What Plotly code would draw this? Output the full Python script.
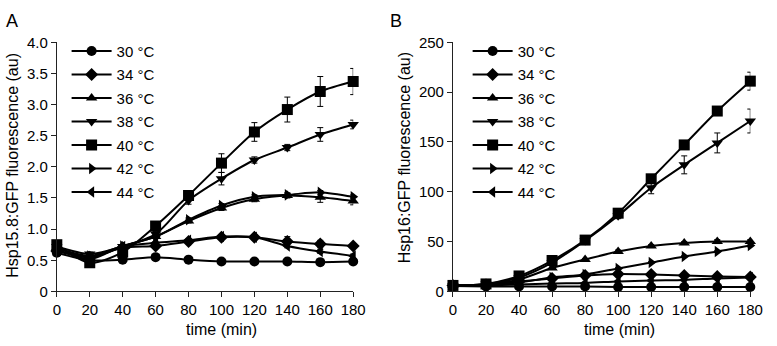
import plotly.graph_objects as go

time_min = [0, 20, 40, 60, 80, 100, 120, 140, 160, 180]
series_names = ["30 °C", "34 °C", "36 °C", "38 °C", "40 °C", "42 °C", "44 °C"]
symbols = ["circle", "diamond", "triangle-up", "triangle-down", "square", "triangle-right", "triangle-left"]

# Panel A: Hsp15.8:GFP
a_30 = [0.62, 0.50, 0.51, 0.55, 0.51, 0.48, 0.48, 0.48, 0.47, 0.48]
a_34 = [0.65, 0.55, 0.70, 0.73, 0.80, 0.87, 0.87, 0.80, 0.76, 0.73]
a_36 = [0.70, 0.55, 0.72, 0.88, 1.13, 1.34, 1.48, 1.54, 1.51, 1.45]
a_38 = [0.72, 0.60, 0.72, 0.92, 1.46, 1.81, 2.11, 2.31, 2.52, 2.68]
a_40 = [0.75, 0.46, 0.63, 1.05, 1.54, 2.06, 2.56, 2.92, 3.21, 3.37]
a_42 = [0.70, 0.57, 0.73, 0.88, 1.15, 1.38, 1.52, 1.55, 1.59, 1.52]
a_44 = [0.68, 0.52, 0.72, 0.78, 0.82, 0.88, 0.87, 0.73, 0.64, 0.57]

a_30_err = [0.02, 0.02, 0.02, 0.02, 0.02, 0.02, 0.02, 0.02, 0.02, 0.02]
a_34_err = [0.02, 0.02, 0.02, 0.02, 0.03, 0.03, 0.04, 0.08, 0.06, 0.04]
a_36_err = [0.02, 0.02, 0.02, 0.03, 0.03, 0.04, 0.04, 0.04, 0.08, 0.06]
a_38_err = [0.03, 0.03, 0.03, 0.04, 0.06, 0.10, 0.05, 0.05, 0.11, 0.07]
a_40_err = [0.03, 0.02, 0.03, 0.04, 0.05, 0.15, 0.15, 0.20, 0.24, 0.21]
a_42_err = [0.02, 0.02, 0.02, 0.02, 0.03, 0.03, 0.03, 0.03, 0.03, 0.03]
a_44_err = [0.02, 0.02, 0.02, 0.02, 0.02, 0.02, 0.03, 0.03, 0.03, 0.03]

# Panel B: Hsp16:GFP
b_30 = [5.5, 5.0, 5.0, 5.0, 5.0, 4.5, 4.5, 4.5, 4.5, 4.5]
b_34 = [6.0, 6.5, 10.0, 13.0, 16.0, 17.5, 17.0, 16.0, 15.0, 14.5]
b_36 = [6.0, 7.0, 12.0, 23.5, 32.0, 40.0, 45.5, 48.5, 50.0, 50.0]
b_38 = [6.0, 7.5, 14.0, 29.0, 51.0, 76.0, 104.0, 127.0, 149.0, 171.0]
b_40 = [6.0, 7.5, 15.5, 31.0, 51.5, 78.5, 113.0, 147.0, 181.0, 211.0]
b_42 = [6.0, 6.5, 9.0, 14.0, 17.0, 23.0, 29.0, 35.0, 40.0, 46.0]
b_44 = [6.0, 6.0, 7.0, 8.0, 8.5, 10.0, 11.0, 11.5, 13.0, 14.0]

b_30_err = [0.5] * 10
b_34_err = [0.5, 0.5, 0.5, 1.0, 1.0, 1.0, 1.0, 1.0, 1.0, 1.0]
b_36_err = [0.5, 0.5, 0.5, 1.0, 1.0, 1.5, 1.5, 1.5, 2.0, 2.0]
b_38_err = [0.5, 0.5, 1.0, 1.5, 2.0, 3.0, 6.0, 9.0, 10.0, 12.0]
b_40_err = [0.5, 0.5, 1.0, 1.5, 2.0, 2.0, 3.0, 2.0, 2.0, 9.0]
b_42_err = [0.5, 0.5, 0.5, 1.0, 1.0, 1.0, 1.0, 1.0, 1.0, 1.5]
b_44_err = [0.5, 0.5, 0.5, 0.5, 0.5, 0.5, 0.5, 0.5, 0.5, 0.5]

a_vals = [a_30, a_34, a_36, a_38, a_40, a_42, a_44]
a_errs = [a_30_err, a_34_err, a_36_err, a_38_err, a_40_err, a_42_err, a_44_err]
b_vals = [b_30, b_34, b_36, b_38, b_40, b_42, b_44]
b_errs = [b_30_err, b_34_err, b_36_err, b_38_err, b_40_err, b_42_err, b_44_err]

a_ticks = [0, 0.5, 1.0, 1.5, 2.0, 2.5, 3.0, 3.5, 4.0]
a_ticktext = ["0", "0.5", "1.0", "1.5", "2.0", "2.5", "3.0", "3.5", "4.0"]
b_ticks = [0, 50, 100, 150, 200, 250]
x_ticks = [0, 20, 40, 60, 80, 100, 120, 140, 160, 180]

x_title = "time (min)"
a_y_title = "Hsp15.8:GFP fluorescence (au)"
b_y_title = "Hsp16:GFP fluorescence (au)"

FONT = "Liberation Sans, Arial, sans-serif"
W, H = 777, 346

fig = go.Figure()

def add_panel(vals, errs, xa, ya, legend, group_prefix):
    for name, sym, v, e in zip(series_names, symbols, vals, errs):
        fig.add_trace(go.Scatter(
            x=time_min, y=v, name=name, mode="lines+markers",
            xaxis=xa, yaxis=ya, legend=legend,
            legendgroup=group_prefix + name,
            line=dict(color="black", width=2, shape="spline", smoothing=0.8),
            marker=dict(symbol=sym, color="black",
                        size=11 if sym == "square" else 10,
                        line=dict(width=0)),
            error_y=dict(type="data", array=e, visible=True, color="black",
                         thickness=1, width=3),
            cliponaxis=False,
        ))

add_panel(a_vals, a_errs, "x", "y", "legend", "a")
add_panel(b_vals, b_errs, "x2", "y2", "legend2", "b")

axis_common = dict(showline=True, linecolor="#222", linewidth=1, ticks="outside",
                   ticklen=5, tickcolor="#222", showgrid=False, zeroline=False,
                   tickfont=dict(family=FONT, size=15, color="black"))

xA = (54 / W, 357 / W)
xB = (459 / W, 763 / W)
yD = (1 - 297 / H, 1 - 35 / H)

def px_x(p):
    return p / W

def px_y(p):
    return 1 - p / H

title_font = dict(size=16, family=FONT, color="black")

fig.update_layout(
    width=W, height=H,
    margin=dict(l=0, r=0, t=0, b=0),
    paper_bgcolor="white", plot_bgcolor="white",
    font=dict(family=FONT, size=15, color="black"),
    xaxis=dict(domain=list(xA), range=[0, 180], tickvals=x_ticks, anchor="y", **axis_common),
    yaxis=dict(domain=list(yD), range=[0, 4], tickvals=a_ticks, ticktext=a_ticktext,
               anchor="x", **axis_common),
    xaxis2=dict(domain=list(xB), range=[0, 180], tickvals=x_ticks, anchor="y2", **axis_common),
    yaxis2=dict(domain=list(yD), range=[0, 250], tickvals=b_ticks, anchor="x2", **axis_common),
    legend=dict(x=px_x(64), y=px_y(27), xanchor="left", yanchor="top",
                bgcolor="rgba(0,0,0,0)", font=dict(size=15, family=FONT),
                traceorder="grouped", tracegroupgap=1, itemwidth=40),
    legend2=dict(x=px_x(474), y=px_y(27), xanchor="left", yanchor="top",
                 bgcolor="rgba(0,0,0,0)", font=dict(size=15, family=FONT),
                 traceorder="grouped", tracegroupgap=1, itemwidth=40),
    annotations=[
        dict(text="A", x=0, y=1, xref="paper", yref="paper", xanchor="left", yanchor="top",
             showarrow=False, font=dict(size=18, family=FONT)),
        dict(text="B", x=px_x(393), y=1, xref="paper", yref="paper", xanchor="left", yanchor="top",
             showarrow=False, font=dict(size=18, family=FONT)),
        dict(text=x_title, x=px_x(222), y=px_y(337), xref="paper", yref="paper",
             xanchor="center", yanchor="middle", showarrow=False, font=title_font),
        dict(text=x_title, x=px_x(629), y=px_y(337), xref="paper", yref="paper",
             xanchor="center", yanchor="middle", showarrow=False, font=title_font),
        dict(text=a_y_title, x=px_x(9), y=px_y(164), xref="paper", yref="paper",
             xanchor="center", yanchor="middle", textangle=-90, showarrow=False, font=title_font),
        dict(text=b_y_title, x=px_x(409), y=px_y(157), xref="paper", yref="paper",
             xanchor="center", yanchor="middle", textangle=-90, showarrow=False, font=title_font),
    ],
)

fig.write_html("out.html",
               config={"displayModeBar": False},
               post_script="document.body.style.margin='0';document.body.style.overflow='hidden';")
